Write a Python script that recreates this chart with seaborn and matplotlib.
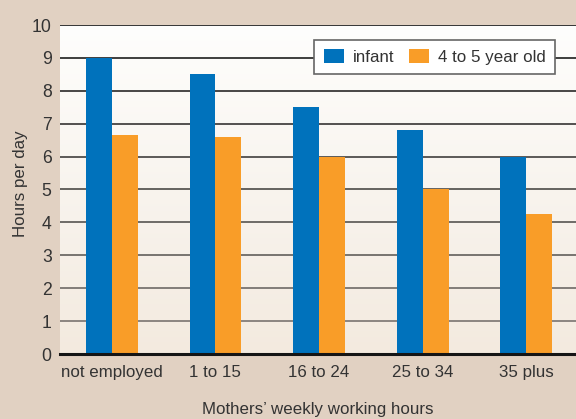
import numpy as np
import pandas as pd
import matplotlib
matplotlib.use("Agg")
import matplotlib.pyplot as plt
import seaborn as sns
from matplotlib import font_manager
from matplotlib.colors import to_rgb

categories = ["not employed", "1 to 15", "16 to 24", "25 to 34", "35 plus"]
series_names = ["infant", "4 to 5 year old"]
infant = [9.0, 8.5, 7.5, 6.8, 6.0]
older = [6.65, 6.6, 6.0, 5.0, 4.27]
yticks = list(range(0, 11))

BLUE = "#0072bc"
ORANGE = "#f99d28"
FIG_BG = "#e1d1c2"
TXT = "#333333"
FS = 12.2

sns.set_theme(style="white")
names = {f.name for f in font_manager.fontManager.ttflist}
fam = next(n for n in ["Liberation Sans Narrow", "Liberation Sans", "DejaVu Sans"] if n in names)
plt.rcParams["font.family"] = [fam, "DejaVu Sans"]

df = pd.DataFrame({
    "category": categories * 2,
    "hours": infant + older,
    "age": [series_names[0]] * len(categories) + [series_names[1]] * len(categories),
})

fig = plt.figure(figsize=(5.76, 4.19), dpi=100, facecolor=FIG_BG)
ax = fig.add_axes([60 / 576, 1 - 354 / 419, 1 - 60 / 576, (354 - 25) / 419])

# gradient background of plot area
top = np.array(to_rgb("#fefefd"))
bot = np.array(to_rgb("#f3eadf"))
t = np.linspace(0, 1, 256)[:, None]
grad = (top * (1 - t) + bot * t)[:, None, :]
ax.imshow(grad, extent=[0, 1, 0, 1], transform=ax.transAxes, aspect="auto", zorder=0)

sns.barplot(data=df, x="category", y="hours", hue="age", palette=[BLUE, ORANGE],
            width=0.5, saturation=1, errorbar=None, ax=ax, zorder=3,
            linewidth=0, edgecolor="none")

ax.set_xlim(-0.5, 4.48)
ax.set_ylim(0, 10)
ax.set_yticks(yticks)
ax.set_yticklabels([str(v) for v in yticks])

# grid lines with a dark-to-gray shading
ax.yaxis.grid(True, zorder=1)
ax.set_axisbelow(True)
c_top = np.array(to_rgb("#262626"))
c_bot = np.array(to_rgb("#8c8782"))
for v, gl in zip(yticks, ax.get_ygridlines()):
    f = 1 - v / 10
    gl.set_color(tuple(c_top * (1 - f) + c_bot * f))
    gl.set_linewidth(1.3)
ax.xaxis.grid(False)

for s in ["left", "right", "top"]:
    ax.spines[s].set_visible(False)
ax.spines["bottom"].set_color("#151515")
ax.spines["bottom"].set_linewidth(2.2)
ax.spines["bottom"].set_zorder(5)

ax.tick_params(axis="y", length=0, pad=6, labelsize=FS + 0.5, labelcolor=TXT)
ax.tick_params(axis="x", which="major", length=0, pad=8, labelsize=FS, labelcolor=TXT)
ax.set_xticks([-0.5, 0.5, 1.5, 2.5, 3.5], minor=True)
ax.tick_params(axis="x", which="minor", direction="in", length=6, width=1.2, color="#666666")

ax.set_xlabel("Mothers\u2019 weekly working hours", fontsize=FS, color=TXT)
ax.xaxis.label.set_va("center")
ax.xaxis.set_label_coords((318 - 60) / 516, (354 - 409) / 329)
ax.set_ylabel("Hours per day", fontsize=FS, color=TXT)
ax.yaxis.label.set_va("center")
ax.yaxis.set_label_coords((21 - 60) / 516, (354 - 184) / 329)

handles, labels = ax.get_legend_handles_labels()
leg = ax.legend(handles, labels, ncol=2, loc="upper right",
                bbox_to_anchor=(555 / 576, 1 - 40 / 419), bbox_transform=fig.transFigure,
                borderaxespad=0, fontsize=FS, frameon=True, fancybox=False, framealpha=1,
                edgecolor="#666666", facecolor="white", handlelength=1.2, handleheight=0.85,
                handletextpad=0.5, columnspacing=0.9, borderpad=0.55, labelcolor=TXT)
leg.get_frame().set_linewidth(1.2)
leg.set_zorder(10)

fig.savefig("out.png", dpi=100, facecolor=FIG_BG)
